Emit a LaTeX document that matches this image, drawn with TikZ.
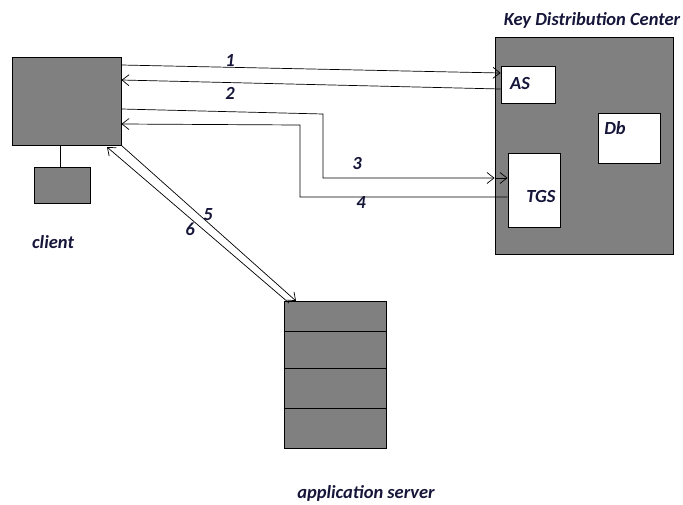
\documentclass[tikz,border=0pt]{standalone}
\usepackage{fontspec}
\setmainfont{Carlito}
\usetikzlibrary{arrows.meta}
\definecolor{boxgray}{HTML}{808080}
\definecolor{txt}{HTML}{16163A}
\begin{document}
\begin{tikzpicture}[x=1pt,y=-1pt,
  gbox/.style={draw=black,fill=boxgray,line width=0.9pt,minimum width=#1,inner sep=0pt},
  wbox/.style={draw=black,fill=white,line width=0.9pt,inner sep=0pt},
  lbl/.style={font=\bfseries\itshape\fontsize{18.5}{20}\selectfont,text=txt,inner sep=0pt},
  conn/.style={line width=0.7pt},
  arr/.style={conn,-{Straight Barb[length=7pt,width=11pt,line width=0.7pt]}}]
\useasboundingbox (0,0) rectangle (683,504);
% client
\node[gbox=109pt,minimum height=88pt] (client) at (66.5,101) {};
\node[gbox=56pt,minimum height=36pt] (term) at (62,185) {};
\draw[line width=0.9pt] (client.south -| 60,0) -- (term.north -| 60,0);
\node[lbl] (clientlbl) at (53,242) {client};
% KDC
\node[gbox=178pt,minimum height=217pt] (kdc) at (584,145.5) {};
\node[lbl] (kdclbl) at (592,20) {Key Distribution Center};
\node[wbox,minimum width=54pt,minimum height=37pt] (as) at (528,84.5) {};
\node[lbl] (aslbl) at (520,84) {AS};
\node[wbox,minimum width=62pt,minimum height=50pt] (db) at (629,138) {};
\node[lbl] (dblbl) at (615,128) {Db};
\node[wbox,minimum width=52pt,minimum height=74pt] (tgs) at (534,190) {};
\node[lbl] (tgslbl) at (541,196) {TGS};
% application server
\node[gbox=102pt,minimum height=147pt] (app) at (335,374.5) {};
\draw[line width=0.9pt] (app.west |- 0,331) -- (app.east |- 0,331);
\draw[line width=0.9pt] (app.west |- 0,368) -- (app.east |- 0,368);
\draw[line width=0.9pt] (app.west |- 0,408) -- (app.east |- 0,408);
\node[lbl] (applbl) at (366,493) {application server};
% arrows 1 and 2
\draw[arr] (client.east |- 0,65) -- (as.west |- 0,73);
\node[lbl] (n1) at (230,60) {1};
\draw[arr] (as.west |- 0,89) -- (client.east |- 0,80);
\node[lbl] (n2) at (230,93) {2};
% arrows 3 and 4
\coordinate (k3) at (kdc.west |- 0,178);
\draw[arr] (client.east |- 0,109) -- (323,114) -- (323,178) -- (k3);
\draw[arr] (k3) -- (tgs.west |- 0,178);
\node[lbl] (n3) at (357,163) {3};
\draw[arr] (tgs.west |- 0,197) -- (300,197) -- (300,125) -- (client.east |- 0,124);
\node[lbl] (n4) at (361,202) {4};
% arrows 5 and 6
\draw[arr] (client.south east) -- (296,301);
\node[lbl] (n5) at (208,215) {5};
\draw[arr] (289,303) -- (107,147);
\node[lbl] (n6) at (190,229) {6};
\end{tikzpicture}
\end{document}
